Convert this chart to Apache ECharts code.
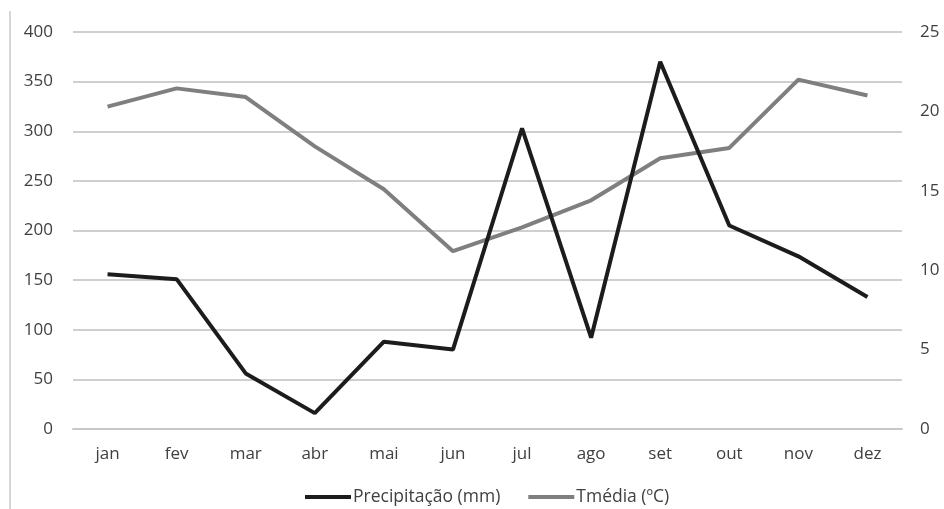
<!DOCTYPE html>
<html><head><meta charset="utf-8">
<script src="https://cdn.jsdelivr.net/npm/echarts@6/dist/echarts.min.js"></script>
<style>html,body{margin:0;padding:0;background:#fff}#c{width:944px;height:509px}</style>
</head><body><div id="c"></div>
<script>
const categories = ['jan','fev','mar','abr','mai','jun','jul','ago','set','out','nov','dez'];
const precipitacao = [156, 151, 56, 16, 88, 80, 303, 92, 370, 205, 174, 133];
const tmedia = [20.3, 21.45, 20.9, 17.8, 15.1, 11.2, 12.7, 14.4, 17.05, 17.7, 22.0, 21.0];
const leftTicks = [0, 400, 50];
const rightTicks = [0, 25, 5];

const font = 'Open Sans';
const chart = echarts.init(document.getElementById('c'));
chart.setOption({
  animation: false,
  backgroundColor: '#fff',
  textStyle: {fontFamily: font},
  grid: {left: 73, right: 42, top: 32, bottom: 80},
  legend: {
    top: 483, left: 300, icon: 'rect',
    itemWidth: 46, itemHeight: 4, itemGap: 28,
    textStyle: {fontFamily: font, fontSize: 17.5, color: '#404040', padding: [0,0,0,-3]},
    data: ['Precipitação (mm)', 'Tmédia (ºC)']
  },
  xAxis: {
    type: 'category', data: categories, boundaryGap: true,
    axisLine: {show: true, lineStyle: {color: '#c8c8c8', width: 2}},
    axisTick: {show: false},
    axisLabel: {fontFamily: font, fontSize: 17, color: '#404040', margin: 17}
  },
  yAxis: [
    {type: 'value', min: leftTicks[0], max: leftTicks[1], interval: leftTicks[2],
     axisLine: {show: false}, axisTick: {show: false},
     splitLine: {lineStyle: {color: '#cfcfcf', width: 2}},
     axisLabel: {fontFamily: font, fontSize: 17, color: '#404040', margin: 20}},
    {type: 'value', min: rightTicks[0], max: rightTicks[1], interval: rightTicks[2],
     axisLine: {show: false}, axisTick: {show: false},
     splitLine: {show: false},
     axisLabel: {fontFamily: font, fontSize: 17, color: '#404040', margin: 18}}
  ],
  series: [
    {name: 'Precipitação (mm)', type: 'line', data: precipitacao, yAxisIndex: 0,
     symbol: 'none', lineStyle: {color: '#1c1c1c', width: 4}, itemStyle: {color: '#1c1c1c'}, z: 3},
    {name: 'Tmédia (ºC)', type: 'line', data: tmedia, yAxisIndex: 1,
     symbol: 'none', lineStyle: {color: '#7f7f7f', width: 4}, itemStyle: {color: '#7f7f7f'}, z: 2}
  ],
  graphic: [{type: 'line', shape: {x1: 10, y1: 11, x2: 10, y2: 509}, style: {stroke: '#c8c8c8', lineWidth: 1.5}}]
});
</script></body></html>
